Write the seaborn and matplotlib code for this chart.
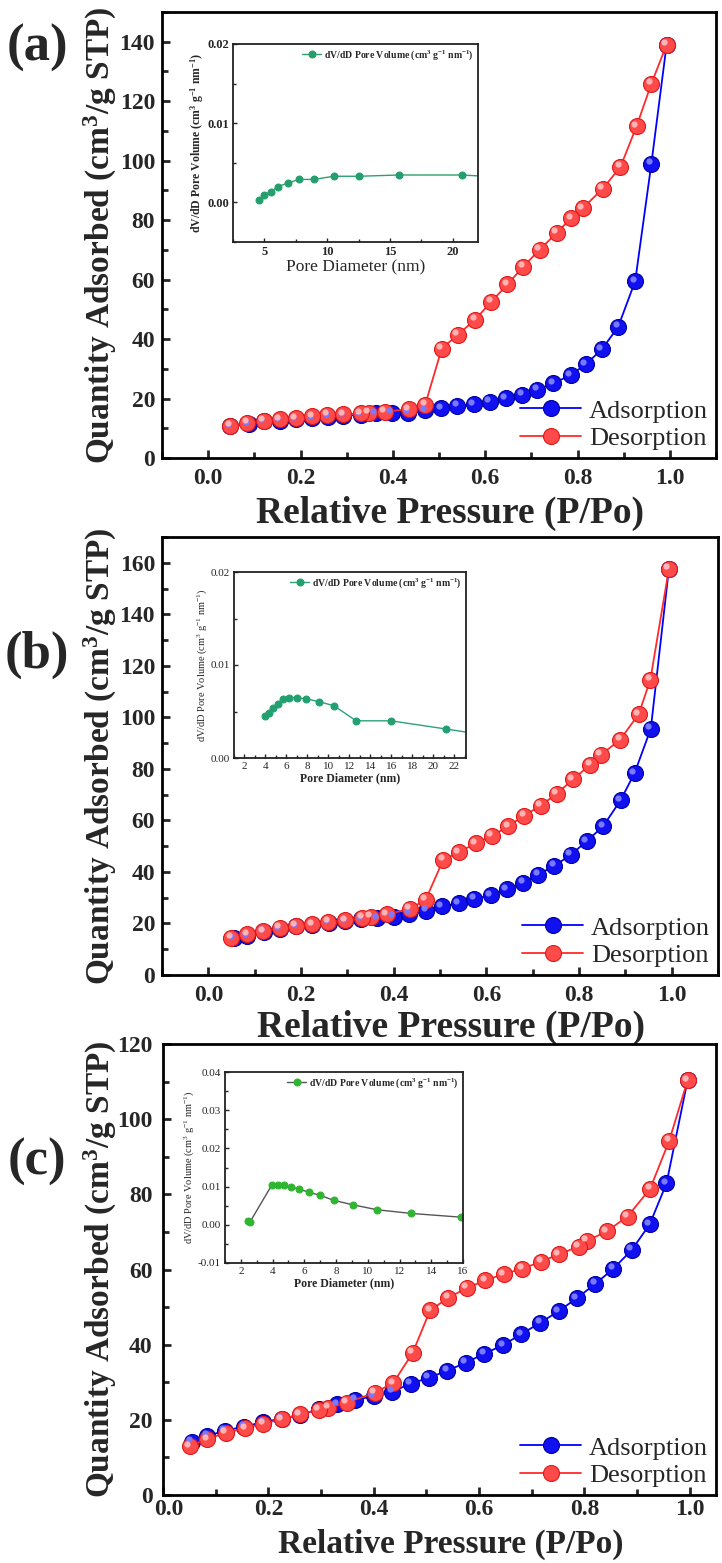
import numpy as np
import pandas as pd
import matplotlib
matplotlib.use('Agg')
import matplotlib.pyplot as plt
import seaborn as sns
from matplotlib.ticker import MultipleLocator, FormatStrFormatter
from matplotlib.transforms import offset_copy, ScaledTranslation

# ---- isotherm data ----
a_ads_p = [0.048, 0.088, 0.12, 0.155, 0.19, 0.225, 0.26, 0.293, 0.33, 0.363, 0.398, 0.433, 0.47, 0.505,
           0.54, 0.575, 0.61, 0.645, 0.68, 0.713, 0.748, 0.785, 0.818, 0.853, 0.888, 0.925, 0.96, 0.993]
a_ads_q = [10.6, 11.4, 12.3, 12.6, 13.0, 13.4, 13.9, 14.2, 14.5, 15.0, 15.3, 15.3, 16.0, 16.7,
           17.5, 18.1, 19.0, 20.1, 21.2, 22.9, 25.1, 27.9, 31.5, 36.6, 44.1, 59.5, 99.0, 139.0]
a_des_p = [0.993, 0.96, 0.928, 0.893, 0.855, 0.811, 0.786, 0.755, 0.718, 0.683, 0.648, 0.613, 0.578, 0.541,
           0.506, 0.47, 0.435, 0.383, 0.348, 0.33, 0.293, 0.258, 0.225, 0.19, 0.155, 0.12, 0.085, 0.048]
a_des_q = [139.0, 125.9, 111.6, 97.9, 90.6, 84.0, 80.7, 75.7, 70.1, 64.4, 58.4, 52.5, 46.5, 41.5,
           36.8, 17.9, 16.4, 15.6, 15.3, 15.0, 14.7, 14.5, 14.0, 13.4, 13.1, 12.5, 11.9, 10.8]

b_ads_p = [0.055, 0.084, 0.12, 0.154, 0.19, 0.224, 0.26, 0.295, 0.33, 0.365, 0.4, 0.434, 0.47, 0.504,
           0.54, 0.574, 0.61, 0.644, 0.68, 0.712, 0.747, 0.782, 0.817, 0.852, 0.89, 0.92, 0.955, 0.994]
b_ads_q = [14.2, 15.1, 16.8, 17.8, 18.9, 19.6, 20.3, 20.8, 21.6, 22.1, 22.7, 23.8, 25.0, 26.6,
           27.8, 29.5, 31.0, 33.3, 35.8, 39.0, 42.4, 46.6, 52.0, 57.7, 67.9, 78.4, 95.6, 157.6]
b_des_p = [0.994, 0.954, 0.929, 0.889, 0.847, 0.824, 0.787, 0.752, 0.717, 0.682, 0.647, 0.612, 0.577, 0.54,
           0.507, 0.469, 0.435, 0.385, 0.35, 0.332, 0.295, 0.259, 0.224, 0.189, 0.154, 0.119, 0.084, 0.05]
b_des_q = [157.6, 114.6, 101.3, 91.4, 85.4, 81.6, 75.9, 70.4, 65.7, 61.9, 57.7, 54.0, 51.1, 47.6,
           44.7, 29.2, 25.7, 23.5, 22.7, 22.2, 21.2, 20.6, 19.7, 19.1, 18.3, 17.0, 15.9, 14.5]

c_ads_p = [0.055, 0.084, 0.117, 0.154, 0.19, 0.225, 0.26, 0.296, 0.331, 0.365, 0.4, 0.435, 0.47, 0.505,
           0.54, 0.575, 0.61, 0.646, 0.68, 0.716, 0.751, 0.786, 0.821, 0.855, 0.89, 0.924, 0.956, 0.996]
c_ads_q = [14.2, 15.7, 17.1, 18.2, 19.4, 20.3, 21.3, 22.8, 24.1, 25.3, 26.3, 27.5, 29.6, 31.2,
           33.1, 35.2, 37.6, 39.9, 42.8, 45.8, 48.9, 52.4, 56.2, 60.2, 65.2, 72.0, 82.9, 110.3]
c_des_p = [0.996, 0.961, 0.925, 0.882, 0.843, 0.805, 0.789, 0.751, 0.718, 0.682, 0.647, 0.612, 0.577, 0.542,
           0.507, 0.474, 0.437, 0.402, 0.349, 0.314, 0.296, 0.26, 0.225, 0.19, 0.156, 0.119, 0.084, 0.051]
c_des_q = [110.3, 94.2, 81.5, 74.1, 70.2, 67.6, 66.1, 64.0, 62.1, 60.2, 58.8, 57.1, 55.1, 52.5,
           49.1, 37.8, 29.8, 27.2, 24.6, 23.2, 22.7, 21.5, 20.1, 19.0, 17.8, 16.5, 14.9, 13.0]

# ---- pore size distribution insets ----
a_pd = [4.58, 5.0, 5.5, 6.1, 6.85, 7.75, 8.95, 10.5, 12.55, 15.7, 20.7, 26.0]
a_dv = [0.00025, 0.00097, 0.00135, 0.0020, 0.00245, 0.0029, 0.0029, 0.0033, 0.0033, 0.00346, 0.00346, 0.0030]
b_pd = [3.97, 4.29, 4.7, 5.18, 5.68, 6.25, 6.98, 7.87, 9.05, 10.54, 12.63, 15.94, 21.24, 25.0]
b_dv = [0.00454, 0.00482, 0.00536, 0.00582, 0.00632, 0.0065, 0.0065, 0.00636, 0.00607, 0.00561,
        0.0040, 0.0040, 0.00311, 0.00246]
c_pd = [2.42, 2.57, 3.96, 4.31, 4.69, 5.15, 5.66, 6.27, 7.0, 7.88, 9.05, 10.6, 12.74, 15.86]
c_dv = [0.00087, 0.0007, 0.01048, 0.01048, 0.0103, 0.00987, 0.00934, 0.00856, 0.00769, 0.00638,
        0.00524, 0.00393, 0.00297, 0.0020]

sns.set_style('ticks')
plt.rcParams['font.family'] = ['Liberation Serif', 'DejaVu Serif']
plt.rcParams['mathtext.fontset'] = 'custom'
plt.rcParams['mathtext.rm'] = 'Liberation Serif'
plt.rcParams['mathtext.bf'] = 'Liberation Serif:bold'
plt.rcParams['mathtext.default'] = 'regular'

W, H = 722, 1563
fig = plt.figure(figsize=(W / 100, H / 100), dpi=100)


def px_rect(l, t, r, b):
    return [l / W, 1 - b / H, (r - l) / W, (b - t) / H]


psd_label = 'dV/dD Pore Volume (cm$^3$ g$^{-1}$ nm$^{-1}$)'

panels = [
    dict(tag='(a)', tag_y=48, rect=(162, 12, 716, 458), xlim=(-0.1, 1.1), ymax=150,
         ads=(a_ads_p, a_ads_q), des=(a_des_p, a_des_q), xl_off=55, xpad=7, ypad=5, xlfs=27,
         inset=(233, 44, 478, 242), pd=(a_pd, a_dv), ixlim=(2.5, 22), iylim=(-0.005, 0.02),
         ixmaj=5, ixmin=2.5, iymaj=0.01, icol='#249e6c', ilcol='#2aa070', ibold=True,
         ixfs=12.5, iyfs=8.5, itfs=9, ilegfs=7),
    dict(tag='(b)', tag_y=655, rect=(162, 537, 718, 975), xlim=(-0.1, 1.1), ymax=170,
         ads=(b_ads_p, b_ads_q), des=(b_des_p, b_des_q), xl_off=52, xpad=7, ypad=5, xlfs=27,
         inset=(234, 572, 466, 758), pd=(b_pd, b_dv), ixlim=(1, 23.1), iylim=(0, 0.02),
         ixmaj=2, ixmin=1, iymaj=0.01, icol='#22a070', ilcol='#2ba277', ibold=False,
         ixfs=8.5, iyfs=7.5, itfs=8, ilegfs=7),
    dict(tag='(c)', tag_y=1162, rect=(163, 1044, 716, 1495), xlim=(0, 1.05), ymax=120,
         ads=(c_ads_p, c_ads_q), des=(c_des_p, c_des_q), xl_off=49, xpad=3, ypad=7.5, xlfs=24,
         inset=(225, 1072, 463, 1263), pd=(c_pd, c_dv), ixlim=(1, 16), iylim=(-0.01, 0.04),
         ixmaj=2, ixmin=1, iymaj=0.01, icol='#2fb52f', ilcol='#555555', ibold=False,
         ixfs=8.5, iyfs=7.5, itfs=8, ilegfs=7),
]

main_axes = []
for p in panels:
    ax = fig.add_axes(px_rect(*p['rect']))
    main_axes.append(ax)
    ads_df = pd.DataFrame({'p': p['ads'][0], 'q': p['ads'][1]})
    des_df = pd.DataFrame({'p': p['des'][0], 'q': p['des'][1]})
    sns.lineplot(data=ads_df, x='p', y='q', ax=ax, sort=False, estimator=None, color='#0000ff',
                 lw=1.3, marker='o', ms=11.5, mfc='#1010f0', mec='#0000a0', mew=0.8, label='Adsorption')
    sns.lineplot(data=des_df, x='p', y='q', ax=ax, sort=False, estimator=None, color='#ff2a2a',
                 lw=1.3, marker='o', ms=11.5, mfc='#ff4a4a', mec='#e01818', mew=0.8, label='Desorption')
    # sphere highlights
    hl = offset_copy(ax.transData, fig=fig, x=-2.5, y=2.5, units='dots')
    ax.plot(ads_df['p'], ads_df['q'], ls='none', marker='o', ms=4.5, mfc='#7a7aff', mec='none',
            transform=hl, clip_on=True)
    ax.plot(des_df['p'], des_df['q'], ls='none', marker='o', ms=4.5, mfc='#ffb3b3', mec='none',
            transform=hl, clip_on=True)

    ax.set_xlim(*p['xlim'])
    ax.set_ylim(0, p['ymax'])
    ax.xaxis.set_major_locator(MultipleLocator(0.2))
    ax.xaxis.set_minor_locator(MultipleLocator(0.1))
    ax.xaxis.set_major_formatter(FormatStrFormatter('%.1f'))
    ax.yaxis.set_major_locator(MultipleLocator(20))
    ax.yaxis.set_minor_locator(MultipleLocator(10))
    ax.tick_params(which='both', direction='in', width=2, top=False, right=False, labelsize=17)
    ax.tick_params(axis='x', which='major', pad=p['xpad'])
    ax.tick_params(axis='y', which='major', pad=p['ypad'])
    ax.tick_params(which='major', length=6)
    ax.tick_params(which='minor', length=4)
    for lab in ax.get_xticklabels() + ax.get_yticklabels():
        lab.set_fontweight('bold')
    for s in ax.spines.values():
        s.set_linewidth(2)
        s.set_color('black')

    ax.set_xlabel('Relative Pressure (P/Po)', fontsize=p['xlfs'], fontweight='bold', va='center')
    ax.set_ylabel('Quantity Adsorbed (cm$^3$/g STP)', fontsize=24, fontweight='bold', va='center')
    l, t, r, b = p['rect']
    ax.xaxis.set_label_coords(0.52, -p['xl_off'] / (b - t))
    ax.yaxis.set_label_coords((100 - l) / (r - l), 0.5)

    ax.legend(loc='lower right', frameon=False, fontsize=19, handlelength=2.3, handletextpad=0.3,
              labelspacing=0.15, borderpad=0.2, borderaxespad=0.1)
    fig.text(37 / W, 1 - p['tag_y'] / H, p['tag'], fontsize=38, fontweight='bold', ha='center', va='center')

    # inset: pore size distribution
    ins = fig.add_axes(px_rect(*p['inset']))
    psd_df = pd.DataFrame({'d': p['pd'][0], 'v': p['pd'][1]})
    sns.lineplot(data=psd_df, x='d', y='v', ax=ins, sort=False, estimator=None, color=p['ilcol'],
                 lw=1.0, marker='o', ms=5, mfc=p['icol'], mec=p['icol'], label=psd_label)
    ins.set_xlim(*p['ixlim'])
    ins.set_ylim(*p['iylim'])
    ins.xaxis.set_major_locator(MultipleLocator(p['ixmaj']))
    ins.xaxis.set_minor_locator(MultipleLocator(p['ixmin']))
    ins.yaxis.set_major_locator(MultipleLocator(p['iymaj']))
    ins.yaxis.set_minor_locator(MultipleLocator(p['iymaj'] / 2))
    ins.yaxis.set_major_formatter(FormatStrFormatter('%.2f'))
    ins.tick_params(which='both', direction='in', width=1, top=False, right=False,
                    labelsize=p['itfs'], pad=3)
    ins.tick_params(which='major', length=3)
    ins.tick_params(which='minor', length=2)
    wt = 'bold' if p['ibold'] else 'normal'
    for lab in ins.get_xticklabels() + ins.get_yticklabels():
        lab.set_fontweight(wt)
    for s in ins.spines.values():
        s.set_linewidth(1.3)
        s.set_color('#222222')
    ins.set_xlabel('Pore Diameter (nm)', fontsize=p['ixfs'], fontweight='normal' if p['ibold'] else 'bold',
                   labelpad=1)
    ins.set_ylabel(psd_label, fontsize=p['iyfs'], fontweight=wt, labelpad=1)
    ins.legend(loc='upper right', frameon=False, handlelength=2.0,
               handletextpad=0.3, borderpad=0.3, borderaxespad=0.1,
               prop={'weight': 'bold', 'size': p['ilegfs']})

# nudge the "0.0" label of panel (c) so it clears the y-axis "0"
fig.canvas.draw()
for lab in main_axes[2].get_xticklabels():
    if lab.get_text() == '0.0':
        lab.set_transform(lab.get_transform() + ScaledTranslation(6 / 100, 0, fig.dpi_scale_trans))

fig.savefig('out.png', dpi=100)
